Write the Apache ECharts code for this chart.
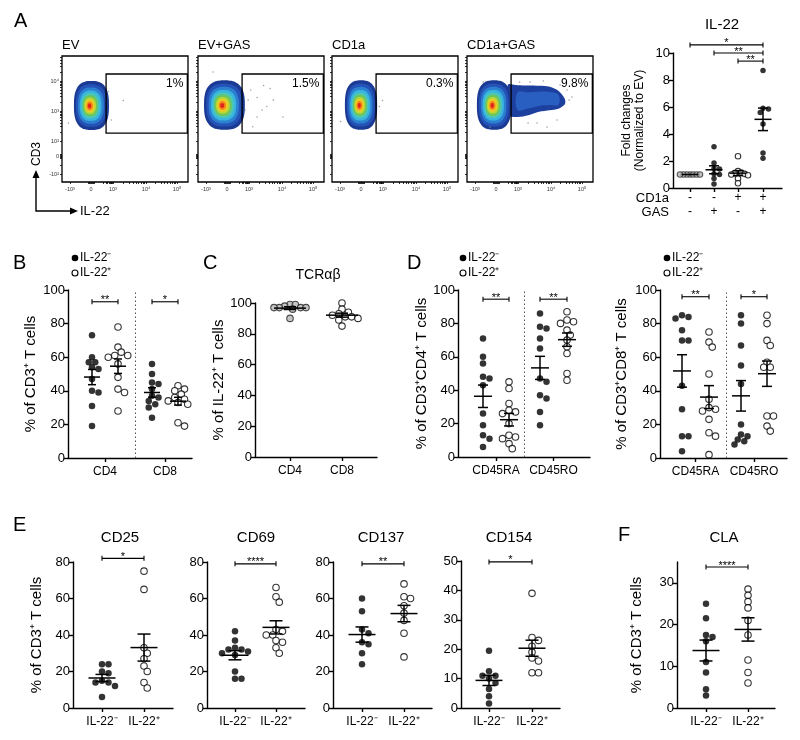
<!DOCTYPE html>
<html><head><meta charset="utf-8">
<script src="https://cdn.jsdelivr.net/npm/echarts@6/dist/echarts.min.js"></script>
<style>html,body{margin:0;padding:0;background:#fff}#c{width:800px;height:740px}</style>
</head><body><div id="c"></div>
<script>
// ================= DATA =================
// Panel A – flow plots
const flowTitles = ['EV', 'EV+GAS', 'CD1a', 'CD1a+GAS'];
const flowPct = ['1%', '1.5%', '0.3%', '9.8%'];
const flowGate = [0.7, 1.53, 4.48, 5.47];               // x1, y1, x2, y2 (display units)
const flowPop = [[0.02, 3.37, 1.63, 3.27], [-0.12, 3.4, 1.9, 3.3], [0.0, 3.4, 1.5, 3.3], [-0.09, 3.4, 1.6, 3.3]]; // cx, cy, width, height
const flowTail = [null, null, null, [[0.55, 4.75, 2.75], [1.0, 4.72, 2.6], [1.5, 4.7, 2.72], [2.0, 4.68, 2.95], [2.5, 4.62, 3.05], [2.9, 4.35, 3.15], [3.2, 3.8, 3.45]]];
const flowEvents = [
  [[1.5, 3.7], [0.95, 2.4], [-1.05, 2.2], [0.8, 4.3]],
  [[0.98, 3.73], [1.4, 3.9], [1.7, 4.7], [1.85, 3.3], [1.4, 2.6], [2.0, 4.5], [2.6, 2.6], [1.2, 1.95], [0.84, 3.07], [2.15, 3.73], [1.63, 3.07], [-0.65, 5.6], [1.1, 4.4]],
  [[1.0, 3.7], [0.85, 3.3], [-0.95, 2.3]],
  [[1.58, 4.93], [2.98, 4.73], [3.53, 3.93], [3.4, 3.73], [1.91, 2.2], [2.37, 1.93], [2.84, 2.4], [1.1, 4.93], [1.49, 2.2], [-0.6, 4.93], [-0.28, 1.93], [3.3, 4.4], [2.2, 5.0]]
];
const flowXTicks = [-0.98, 0, 1.02, 2.56, 4.0];
const flowXLabels = ['-10³', '0', '10³', '10⁴', '10⁵'];
const flowYTicks = [-1.2, 0, 1, 3, 5];
const flowYLabels = ['-10²', '0', '10²', '10³', '10⁴'];

// Panel A – IL-22 fold change
const il22Cd1a = ['-', '-', '+', '+'];
const il22Gas = ['-', '+', '-', '+'];
const il22EV = [1, 1, 1, 1, 1, 1, 1];
const il22EVGAS = [3.05, 1.85, 1.45, 1.4, 1.05, 1.0, 0.7, 0.3];
const il22CD1a = [2.35, 1.25, 1.15, 1.1, 1.05, 1.0, 0.95, 0.7, 0.35];
const il22CD1aGAS = [8.7, 5.9, 5.85, 5.6, 4.75, 2.6, 2.2];
const il22Ticks = [0, 2, 4, 6, 8, 10];

// Panel B
const bCats = ['CD4', 'CD8'];
const bCd4Neg = [73, 60, 57, 57, 54, 53, 47, 40, 39, 31, 19];
const bCd4Pos = [78, 66, 63, 61, 61, 60, 56, 48, 41, 39, 28];
const bCd8Neg = [56, 50, 45, 44, 41, 37, 36, 34, 32, 30, 24];
const bCd8Pos = [43, 41, 40, 38, 36, 35, 34, 33, 32, 21, 19];
const pctTicks = [0, 20, 40, 60, 80, 100];

// Panel C
const cCats = ['CD4', 'CD8'];
const cCd4 = [99, 99, 98, 97, 97, 97, 97, 96, 90];
const cCd8 = [100, 96, 94, 93, 92, 91, 91, 90, 89, 85];

// Panel D
const dCats = ['CD45RA', 'CD45RO'];
const dCd4RaNeg = [71, 60, 56, 48, 47, 43, 26, 19, 13, 11, 6];
const dCd4RaPos = [45, 41, 32, 28, 27, 26, 20, 13, 12, 11, 8, 5];
const dCd4RoNeg = [86, 78, 77, 71, 65, 47, 45, 37, 35, 27, 19];
const dCd4RoPos = [87, 82, 81, 80, 76, 73, 70, 66, 62, 50, 46];
const dCd8RaNeg = [85, 84, 83, 76, 70, 70, 43, 29, 13, 13, 4];
const dCd8RaPos = [75, 69, 66, 50, 35, 30, 29, 28, 23, 15, 13, 2];
const dCd8RoNeg = [85, 80, 67, 55, 44, 20, 14, 13, 11, 10, 8];
const dCd8RoPos = [85, 80, 70, 67, 57, 54, 54, 25, 25, 19, 16];

// Panels E / F
const eCats = ['IL-22⁻', 'IL-22⁺'];
const cd25Neg = [24, 24, 20, 19, 15, 14, 14, 12, 6];
const cd25Pos = [75, 65, 33, 30, 27, 23, 20, 14, 11];
const cd69Neg = [42, 37, 33, 32, 32, 31, 30, 29, 20, 16, 16];
const cd69Pos = [66, 61, 58, 43, 42, 40, 40, 37, 36, 33, 30];
const cd137Neg = [60, 53, 43, 41, 36, 35, 30, 24];
const cd137Pos = [68, 61, 60, 56, 52, 48, 41, 28];
const cd154Neg = [19.5, 12.5, 11, 11, 10, 8.5, 6.5, 4, 1.5];
const cd154Pos = [39, 24, 23, 21, 19, 17, 16, 12, 12];
const claNeg = [25, 21.5, 17.5, 17, 16, 11, 8.5, 4.5, 3];
const claPos = [28.5, 27, 25.5, 24, 21, 17.5, 11.5, 8.5, 6];
const e80Ticks = [0, 20, 40, 60, 80];
const e50Ticks = [0, 10, 20, 30, 40, 50];
const claTicks = [0, 10, 20, 30];

// ================= BUILD =================
const FONT = '"Liberation Sans", Arial, sans-serif';
const option = {animation: false, backgroundColor: '#fff', textStyle: {fontFamily: FONT},
  grid: [], xAxis: [], yAxis: [], series: [], graphic: []};
const G = option.graphic;

function addGrid(g, xa, ya) {
  const gi = option.grid.length;
  option.grid.push(g); xa.gridIndex = gi; ya.gridIndex = gi;
  option.xAxis.push(xa); option.yAxis.push(ya); return gi;
}
function stats(a) {
  const n = a.length, m = a.reduce((s, v) => s + v, 0) / n;
  const sd = Math.sqrt(a.reduce((s, v) => s + (v - m) * (v - m), 0) / (n - 1));
  return [m, sd / Math.sqrt(n)];
}
function swarm(vals, pxY, d, maxHalf) {
  const order = vals.map((v, i) => i).sort((a, b) => vals[b] - vals[a]);
  const placed = [], off = new Array(vals.length).fill(0);
  for (const i of order) {
    const y = vals[i] * pxY;
    for (let k = 0; k < 80; k++) {
      const c = k === 0 ? 0 : (k % 2 ? 1 : -1) * Math.ceil(k / 2) * d * 0.5;
      if (placed.every(p => Math.hypot(p[0] - c, p[1] - y) >= d * 0.85)) { off[i] = c; placed.push([c, y]); break; }
    }
  }
  const m = Math.max(...off.map(Math.abs));
  if (maxHalf && m > maxHalf) { const s = maxHalf / m; for (let i = 0; i < off.length; i++) off[i] *= s; }
  return off;
}
const axLine = {show: true, onZero: false, lineStyle: {color: '#000', width: 1.4}};

function dotPanel(p) {
  const gi = addGrid({left: p.left, top: p.top, width: p.width, height: p.height},
    {type: 'value', min: 0, max: p.width, axisLine: axLine, splitLine: {show: false},
      axisTick: {show: true, customValues: p.catTicks, length: 4, lineStyle: {color: '#000', width: 1.4}},
      axisLabel: {show: true, customValues: p.catTicks, color: '#000', fontSize: 12, margin: p.xMargin || 7, lineHeight: p.xLineHeight || 14,
        formatter: v => { const j = p.catTicks.findIndex(t => Math.abs(t - v) < 1e-6); return j >= 0 ? p.catLabels[j] : ''; }}},
    {type: 'value', min: p.ymin || 0, max: p.ymax, axisLine: axLine, splitLine: {show: false},
      axisTick: {show: true, customValues: p.yTicks, length: 4, lineStyle: {color: '#000', width: 1.4}},
      axisLabel: {customValues: p.yTicks, color: '#000', fontSize: 13, margin: 3},
      name: p.yName || '', nameLocation: 'middle', nameGap: p.nameGap || 30,
      nameTextStyle: {fontSize: p.nameSize || 14, color: '#000', lineHeight: p.nameLH || 16}});
  const pxY = p.height / (p.ymax - (p.ymin || 0));
  p.groups.forEach((g, gIdx) => {
    const off = swarm(g.values, pxY, p.dot, p.maxHalf);
    const s = {type: 'scatter', xAxisIndex: gi, yAxisIndex: gi, symbolSize: p.dot, silent: true, clip: false, z: 2,
      data: g.values.map((v, i) => [g.pos + off[i], v]),
      itemStyle: g.filled ? {color: '#000'} : {color: g.fill || '#fff', borderColor: g.stroke || '#000', borderWidth: 1.1}};
    if (gIdx === 0 && p.divider != null) {
      s.markLine = {silent: true, symbol: ['none', 'none'], label: {show: false},
        lineStyle: {type: [1.5, 2.5], color: '#555', width: 1}, data: [{xAxis: p.divider}]};
    }
    option.series.push(s);
  });
  option.series.push({type: 'custom', xAxisIndex: gi, yAxisIndex: gi, z: 4, silent: true, clip: false,
    data: p.groups.map(g => { const st = stats(g.values); return [g.pos, st[0], st[1]]; }),
    renderItem: (params, api) => {
      const x = api.value(0), m = api.value(1), s = api.value(2);
      const c = api.coord([x, m]), t = api.coord([x, m + s]), b = api.coord([x, m - s]);
      const st = {stroke: '#000', lineWidth: 1.5};
      const ch = [{type: 'line', shape: {x1: c[0] - p.meanW / 2, y1: c[1], x2: c[0] + p.meanW / 2, y2: c[1]}, style: st}];
      if (c[1] - t[1] > 0.8) {
        ch.push({type: 'line', shape: {x1: c[0], y1: t[1], x2: c[0], y2: b[1]}, style: st});
        ch.push({type: 'line', shape: {x1: c[0] - p.capW / 2, y1: t[1], x2: c[0] + p.capW / 2, y2: t[1]}, style: st});
        ch.push({type: 'line', shape: {x1: c[0] - p.capW / 2, y1: b[1], x2: c[0] + p.capW / 2, y2: b[1]}, style: st});
      }
      return {type: 'group', children: ch};
    }});
  if (p.sig) {
    option.series.push({type: 'custom', xAxisIndex: gi, yAxisIndex: gi, z: 4, silent: true, clip: false,
      data: p.sig.map(s => [s[0], s[1], s[2]]),
      renderItem: (params, api) => {
        const a = api.coord([api.value(0), api.value(2)]), b = api.coord([api.value(1), api.value(2)]);
        const st = {stroke: '#000', lineWidth: 1.1};
        return {type: 'group', children: [
          {type: 'line', shape: {x1: a[0], y1: a[1], x2: b[0], y2: b[1]}, style: st},
          {type: 'line', shape: {x1: a[0], y1: a[1] - 2.5, x2: a[0], y2: a[1] + 2.5}, style: st},
          {type: 'line', shape: {x1: b[0], y1: b[1] - 2.5, x2: b[0], y2: b[1] + 2.5}, style: st},
          {type: 'text', x: (a[0] + b[0]) / 2, y: a[1] - 1.5, style: {text: p.sig[params.dataIndex][3], fill: '#000',
            font: '11px ' + FONT, align: 'center', verticalAlign: 'middle', textAlign: 'center', textVerticalAlign: 'middle'}}
        ]};
      }});
  }
  return gi;
}

// ---------- Flow plots ----------
const LEVELS = [[1, '#1b3a94'], [0.87, '#2452b6'], [0.74, '#2c80d0'], [0.62, '#38b4e0'], [0.52, '#4cc6b8'],
  [0.43, '#6cc65a'], [0.34, '#b8d63a'], [0.26, '#f0cc20'], [0.18, '#f2861c'], [0.1, '#e0261a']];
function blobPts(cx, cy, rx, ry, n) {
  const pts = [];
  for (let k = 0; k < 56; k++) {
    const a = k / 56 * 2 * Math.PI, c = Math.cos(a), s = Math.sin(a);
    pts.push([cx + rx * Math.sign(c) * Math.pow(Math.abs(c), 2 / n), cy + ry * Math.sign(s) * Math.pow(Math.abs(s), 2 / n)]);
  }
  return pts;
}
const xMinor = [...flowXTicks, -0.15, -0.1, -0.05, 0.05, 0.1, 0.15];
const yMinor = [...flowYTicks, -0.12, -0.06, 0.06, 0.12, -0.6];
for (let k = 2; k <= 9; k++) {
  xMinor.push(1.02 + Math.log10(k) * 1.54, 2.56 + Math.log10(k) * 1.44, 0.4 + Math.log10(k) * 0.62);
  yMinor.push(1 + 2 * Math.log10(k), 3 + 2 * Math.log10(k));
  if (5 + 2 * Math.log10(k) < 6.6) yMinor.push(5 + 2 * Math.log10(k));
}
const flowLeft = [62, 198, 332, 467];
const noLine = {show: false, onZero: false};
flowTitles.forEach((title, i) => {
  const gi = addGrid({left: flowLeft[i], top: 56, width: 126, height: 126, show: true, borderColor: '#000', borderWidth: 1.3},
    {type: 'value', min: -1.35, max: 4.51, axisLine: noLine, splitLine: {show: false},
      axisTick: {show: true, customValues: xMinor, length: 2, lineStyle: {color: '#000', width: 0.8}},
      axisLabel: {customValues: flowXTicks, color: '#333', fontSize: 5.5, margin: 4,
        formatter: v => { const j = flowXTicks.findIndex(t => Math.abs(t - v) < 1e-6); return j >= 0 ? flowXLabels[j] : ''; }}},
    {type: 'value', min: -1.73, max: 6.67, axisLine: noLine, splitLine: {show: false},
      axisTick: {show: true, customValues: yMinor, length: 2, lineStyle: {color: '#000', width: 0.8}},
      axisLabel: {show: i === 0, customValues: flowYTicks, color: '#333', fontSize: 5.5, margin: 3,
        formatter: v => { const j = flowYTicks.findIndex(t => Math.abs(t - v) < 1e-6); return j >= 0 ? flowYLabels[j] : ''; }}});
  if (flowTail[i]) {
    const tail = flowTail[i];
    option.series.push({type: 'custom', xAxisIndex: gi, yAxisIndex: gi, silent: true, z: 1, data: [[tail[0][0], tail[0][1]]],
      renderItem: (params, api) => {
        const top = tail.map(r => api.coord([r[0], r[1]])), bot = tail.map(r => api.coord([r[0], r[2]])).reverse();
        const inner = tail.slice(1, -1).map(r => { const m = (r[1] + r[2]) / 2, h = (r[1] - r[2]) / 2 * 0.55; return [r[0], m + h, m - h]; });
        const it = inner.map(r => api.coord([r[0], r[1]])), ib = inner.map(r => api.coord([r[0], r[2]])).reverse();
        return {type: 'group', children: [
          {type: 'polygon', shape: {points: top.concat(bot), smooth: 0.3}, style: {fill: '#1d3f9e'}},
          {type: 'polygon', shape: {points: it.concat(ib), smooth: 0.4}, style: {fill: '#2a5fc2'}}
        ]};
      }});
  }
  option.series.push({type: 'custom', xAxisIndex: gi, yAxisIndex: gi, silent: true, z: 2, data: [flowPop[i]],
    renderItem: (params, api) => {
      const c = api.coord([api.value(0), api.value(1)]), sz = api.size([api.value(2), api.value(3)]);
      const rx = sz[0] / 2, ry = sz[1] / 2;
      return {type: 'group', children: LEVELS.map(([s, col], k) => ({type: 'polygon',
        shape: {points: blobPts(c[0] - (1 - s) * rx * 0.12, c[1] + (1 - s) * ry * 0.02, rx * s, ry * s, 2.7 - k * 0.07), smooth: 0.2},
        style: {fill: col}}))};
    }});
  option.series.push({type: 'scatter', xAxisIndex: gi, yAxisIndex: gi, silent: true, z: 3, symbolSize: 1.6,
    itemStyle: {color: '#8a8a8a'}, data: flowEvents[i]});
  option.series.push({type: 'custom', xAxisIndex: gi, yAxisIndex: gi, silent: true, z: 5, clip: false, data: [flowGate],
    renderItem: (params, api) => {
      const p1 = api.coord([api.value(0), api.value(3)]), p2 = api.coord([api.value(2), api.value(1)]);
      return {type: 'group', children: [
        {type: 'rect', shape: {x: p1[0], y: p1[1], width: p2[0] - p1[0], height: p2[1] - p1[1]}, style: {fill: 'none', stroke: '#000', lineWidth: 1.3}},
        {type: 'text', x: p2[0] - 4, y: p1[1] + 4, style: {text: flowPct[i], fill: '#000', font: '12px ' + FONT,
          align: 'right', verticalAlign: 'top', textAlign: 'right', textVerticalAlign: 'top'}}
      ]};
    }});
  G.push({type: 'text', x: flowLeft[i], y: 45, silent: true, style: {text: title, fill: '#000', font: '13px ' + FONT,
    align: 'left', verticalAlign: 'middle', textAlign: 'left', textVerticalAlign: 'middle'}});
});

// ---------- IL-22 fold change ----------
dotPanel({left: 673, top: 53, width: 109, height: 135, ymax: 10, yTicks: il22Ticks, dot: 5.5, maxHalf: 10, meanW: 17, capW: 10,
  catTicks: [17, 41, 65, 90], catLabels: il22Cd1a.map((c, i) => c + '\n' + il22Gas[i]), xMargin: 3, xLineHeight: 14,
  groups: [{pos: 17, values: il22EV, fill: '#b4b4b4', stroke: '#333'}, {pos: 41, values: il22EVGAS, filled: true},
    {pos: 65, values: il22CD1a}, {pos: 90, values: il22CD1aGAS, filled: true}],
  sig: [[17, 90, 10.6, '*'], [41, 90, 10.0, '**'], [65, 90, 9.4, '**']],
  yName: 'Fold changes\n(Normalized to EV)', nameGap: 27, nameSize: 12, nameLH: 13});

// ---------- B ----------
dotPanel({left: 68, top: 290, width: 124, height: 168, ymax: 100, yTicks: pctTicks, dot: 6.5, maxHalf: 13, meanW: 16, capW: 8,
  catTicks: [37, 97], catLabels: bCats, divider: 67,
  groups: [{pos: 24, values: bCd4Neg, filled: true}, {pos: 50, values: bCd4Pos}, {pos: 84, values: bCd8Neg, filled: true}, {pos: 110, values: bCd8Pos}],
  sig: [[24, 50, 93, '**'], [84, 110, 93, '*']], yName: '% of CD3⁺ T cells', nameGap: 29, nameSize: 15});

// ---------- C ----------
dotPanel({left: 255, top: 303, width: 122, height: 154, ymax: 100, yTicks: pctTicks, dot: 6.5, maxHalf: 16, meanW: 32, capW: 12,
  catTicks: [35, 87], catLabels: cCats,
  groups: [{pos: 35, values: cCd4, fill: '#b8b8b8', stroke: '#222'}, {pos: 87, values: cCd8}],
  yName: '% of IL-22⁺ T cells', nameGap: 28, nameSize: 15});

// ---------- D ----------
dotPanel({left: 458, top: 290, width: 132, height: 167, ymax: 100, yTicks: pctTicks, dot: 6.5, maxHalf: 13, meanW: 18, capW: 10,
  catTicks: [38, 95.5], catLabels: dCats, divider: 66,
  groups: [{pos: 25, values: dCd4RaNeg, filled: true}, {pos: 51, values: dCd4RaPos}, {pos: 82, values: dCd4RoNeg, filled: true}, {pos: 109, values: dCd4RoPos}],
  sig: [[25, 51, 94.5, '**'], [82, 109, 94.5, '**']], yName: '% of CD3⁺CD4⁺ T cells', nameGap: 24, nameSize: 15});
dotPanel({left: 660, top: 290, width: 127, height: 168, ymax: 100, yTicks: pctTicks, dot: 6.5, maxHalf: 13, meanW: 18, capW: 10,
  catTicks: [35.5, 94], catLabels: dCats, divider: 66,
  groups: [{pos: 22, values: dCd8RaNeg, filled: true}, {pos: 49, values: dCd8RaPos}, {pos: 81, values: dCd8RoNeg, filled: true}, {pos: 107, values: dCd8RoPos}],
  sig: [[22, 49, 96, '**'], [81, 107, 96, '*']], yName: '% of CD3⁺CD8⁺ T cells', nameGap: 30, nameSize: 15});

// ---------- E ----------
const eCommon = {dot: 6.5, maxHalf: 13, meanW: 27, capW: 13, catLabels: eCats};
dotPanel(Object.assign({}, eCommon, {left: 73, top: 562, width: 100, height: 146, ymax: 80, yTicks: e80Ticks, catTicks: [29, 71],
  groups: [{pos: 29, values: cd25Neg, filled: true}, {pos: 71, values: cd25Pos}], sig: [[29, 71, 82, '*']],
  yName: '% of CD3⁺ T cells', nameGap: 28, nameSize: 15}));
dotPanel(Object.assign({}, eCommon, {left: 207, top: 562, width: 98, height: 146, ymax: 80, yTicks: e80Ticks, catTicks: [28, 69],
  groups: [{pos: 28, values: cd69Neg, filled: true}, {pos: 69, values: cd69Pos}], sig: [[28, 69, 79, '****']]}));
dotPanel(Object.assign({}, eCommon, {left: 333, top: 562, width: 99, height: 146, ymax: 80, yTicks: e80Ticks, catTicks: [29, 71],
  groups: [{pos: 29, values: cd137Neg, filled: true}, {pos: 71, values: cd137Pos}], sig: [[29, 71, 79, '**']]}));
dotPanel(Object.assign({}, eCommon, {left: 461, top: 561, width: 99, height: 147, ymax: 50, yTicks: e50Ticks, catTicks: [28, 71],
  groups: [{pos: 28, values: cd154Neg, filled: true}, {pos: 71, values: cd154Pos}], sig: [[28, 71, 49.7, '*']]}));
// ---------- F ----------
dotPanel(Object.assign({}, eCommon, {left: 677, top: 562, width: 98, height: 146, ymax: 35, yTicks: claTicks, catTicks: [29, 71],
  groups: [{pos: 29, values: claNeg, filled: true}, {pos: 71, values: claPos}], sig: [[29, 71, 33.8, '****']],
  yName: '% of CD3⁺ T cells', nameGap: 32, nameSize: 15}));

// ---------- annotations ----------
function txt(x, y, s, size, align) {
  G.push({type: 'text', x: x, y: y, silent: true, style: {text: s, fill: '#000', font: size + 'px ' + FONT,
    align: align || 'left', verticalAlign: 'middle', textAlign: align || 'left', textVerticalAlign: 'middle'}});
}
[['A', 14, 21], ['B', 13, 263], ['C', 203, 263], ['D', 407, 263], ['E', 13, 525], ['F', 618, 535]].forEach(l => txt(l[1], l[2], l[0], 20));
txt(722, 25, 'IL-22', 15, 'center');
txt(669, 198, 'CD1a', 13, 'right');
txt(669, 212, 'GAS', 13, 'right');
txt(318, 275, 'TCRαβ', 14, 'center');
txt(120, 538, 'CD25', 15, 'center');
txt(256, 538, 'CD69', 15, 'center');
txt(381, 538, 'CD137', 15, 'center');
txt(509, 538, 'CD154', 15, 'center');
txt(724, 538, 'CLA', 15, 'center');
// axis arrows of flow plots
G.push({type: 'polyline', silent: true, shape: {points: [[36, 176], [36, 211], [73, 211]]}, style: {stroke: '#000', lineWidth: 1.4, fill: 'none'}});
G.push({type: 'polygon', silent: true, shape: {points: [[36, 170], [32.5, 178], [39.5, 178]]}, style: {fill: '#000'}});
G.push({type: 'polygon', silent: true, shape: {points: [[78, 211], [70, 207.5], [70, 214.5]]}, style: {fill: '#000'}});
G.push({type: 'text', x: 37, y: 154, rotation: Math.PI / 2, silent: true, style: {text: 'CD3', fill: '#000', font: '12px ' + FONT,
  align: 'center', verticalAlign: 'middle', textAlign: 'center', textVerticalAlign: 'middle'}});
txt(80, 211, 'IL-22', 13);
// legends
[[75, 258], [463, 258], [667, 258]].forEach(([x, y]) => {
  G.push({type: 'circle', silent: true, shape: {cx: x, cy: y, r: 3.3}, style: {fill: '#000'}});
  txt(x + 5, y, 'IL-22⁻', 12);
  G.push({type: 'circle', silent: true, shape: {cx: x, cy: y + 15, r: 3}, style: {fill: '#fff', stroke: '#000', lineWidth: 1.1}});
  txt(x + 5, y + 15, 'IL-22⁺', 12);
});

const chart = echarts.init(document.getElementById('c'), null, {renderer: 'canvas'});
chart.setOption(option);
</script>
</body></html>
